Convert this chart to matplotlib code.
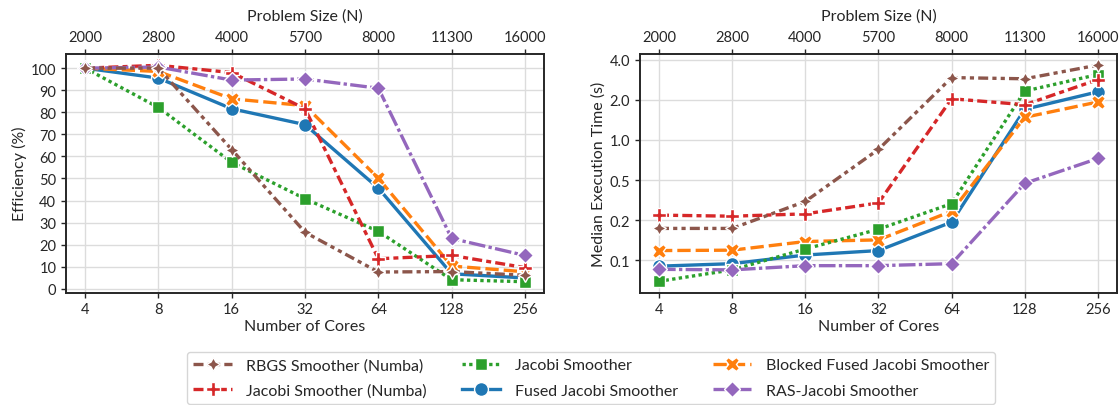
import matplotlib
matplotlib.use("Agg")
import matplotlib.pyplot as plt
from matplotlib.ticker import FormatStrFormatter

cores = [4, 8, 16, 32, 64, 128, 256]
problem_sizes = ["2000", "2800", "4000", "5700", "8000", "11300", "16000"]

# efficiency (%) per smoother
eff_fused = [100, 95.5, 81.6, 74.4, 45.6, 6.8, 4.9]
eff_blocked = [100, 98.5, 86.1, 83.0, 50.1, 10.3, 7.7]
eff_jacobi = [100, 82.2, 57.3, 40.8, 26.0, 4.1, 3.2]
eff_jacobi_numba = [100, 101.3, 98.0, 81.6, 13.6, 15.1, 9.6]
eff_ras = [100, 100.5, 94.6, 95.1, 90.9, 22.8, 15.1]
eff_rbgs = [100, 100, 63.1, 25.6, 7.6, 7.8, 6.1]

# median execution time (s)
time_fused = [0.113, 0.118, 0.137, 0.148, 0.242, 1.70, 2.30]
time_blocked = [0.148, 0.149, 0.173, 0.178, 0.292, 1.48, 1.93]
time_jacobi = [0.087, 0.106, 0.152, 0.214, 0.333, 2.33, 3.10]
time_jacobi_numba = [0.273, 0.268, 0.279, 0.337, 2.04, 1.84, 2.84]
time_ras = [0.107, 0.106, 0.114, 0.114, 0.118, 0.473, 0.727]
time_rbgs = [0.217, 0.217, 0.346, 0.85, 2.94, 2.88, 3.65]

series = [
    ("Fused Jacobi Smoother", eff_fused, time_fused, "#1f77b4", "o", (None, None)),
    ("Blocked Fused Jacobi Smoother", eff_blocked, time_blocked, "#ff7f0e", "X", (4, 1.5)),
    ("Jacobi Smoother", eff_jacobi, time_jacobi, "#2ca02c", "s", (1, 1)),
    ("Jacobi Smoother (Numba)", eff_jacobi_numba, time_jacobi_numba, "#d62728", "P",
     (3, 1.25, 1.5, 1.25)),
    ("RAS-Jacobi Smoother", eff_ras, time_ras, "#9467bd", "D", (5, 1, 1, 1)),
    ("RBGS Smoother (Numba)", eff_rbgs, time_rbgs, "#8c564b", (4, 1, 0),
     (3, 1.25, 1.25, 1.25, 1.25, 1.25)),
]
legend_order = [
    "RBGS Smoother (Numba)", "Jacobi Smoother (Numba)", "Jacobi Smoother",
    "Fused Jacobi Smoother", "Blocked Fused Jacobi Smoother", "RAS-Jacobi Smoother",
]
marker_sizes = {"o": 10, "X": 10.5, "s": 8.5, "P": 10.5, "D": 8.5}

plt.rcParams["font.family"] = ["Lato", "DejaVu Sans"]
plt.rcParams["text.color"] = "#262626"
plt.rcParams["axes.labelcolor"] = "#262626"
plt.rcParams["xtick.color"] = "#262626"
plt.rcParams["ytick.color"] = "#262626"

fig = plt.figure(figsize=(11.19, 4.06), dpi=100)
ax_eff = fig.add_axes([0.0590, 0.2765, 0.4272, 0.589])
ax_time = fig.add_axes([0.5719, 0.2765, 0.4263, 0.589])

handles = {}
for name, eff, tim, color, marker, dash in series:
    ms = marker_sizes.get(marker, 10) if isinstance(marker, str) else 10
    for ax, vals in ((ax_eff, eff), (ax_time, tim)):
        (line,) = ax.plot(cores, vals, color=color, marker=marker, markersize=ms,
                          markeredgecolor="white", markeredgewidth=1.0,
                          linewidth=2.4, label=name)
        if dash[0] is not None:
            line.set_dashes(dash)
    handles[name] = line

xlim = (4 / 2 ** 0.26, 256 * 2 ** 0.26)
for ax in (ax_eff, ax_time):
    ax.set_xscale("log", base=2)
    ax.set_xlim(xlim)
    ax.set_xticks(cores, labels=[str(c) for c in cores])
    ax.minorticks_off()
    ax.grid(True, color="#dcdcdc", linewidth=1.0)
    ax.set_axisbelow(True)
    ax.set_xlabel("Number of Cores", fontsize=11.5, labelpad=2)
    ax.tick_params(labelsize=10.5, length=3.5, width=1.0, pad=3.5)
    for sp in ax.spines.values():
        sp.set_color("#262626")
        sp.set_linewidth(1.2)

    top = ax.twiny()
    top.set_xscale("log", base=2)
    top.set_xlim(xlim)
    top.set_xticks(cores, labels=problem_sizes)
    top.minorticks_off()
    top.set_xlabel("Problem Size (N)", fontsize=11.5, labelpad=7)
    top.tick_params(labelsize=10.5, length=3.5, width=1.0, pad=3.5)
    for sp in top.spines.values():
        sp.set_color("#262626")
        sp.set_linewidth(1.2)

ax_eff.set_ylim(-1.8, 106.6)
ax_eff.set_yticks(range(0, 101, 10))
ax_eff.set_ylabel("Efficiency (%)", fontsize=11.5, labelpad=3)

ax_time.set_yscale("log", base=2)
ax_time.set_ylim(0.0714, 4.45)
ax_time.set_yticks([0.125, 0.25, 0.5, 1, 2, 4])
ax_time.yaxis.set_major_formatter(FormatStrFormatter("%.1f"))
ax_time.minorticks_off()
ax_time.set_ylabel("Median Execution Time (s)", fontsize=11.5, labelpad=3)

fig.legend([handles[n] for n in legend_order], legend_order, ncol=3,
           loc="upper left", bbox_to_anchor=(187 / 1119, 1 - 352.7 / 406),
           borderaxespad=0, fontsize=11.5, handlelength=2.4, handletextpad=0.9,
           columnspacing=2.2, labelspacing=0.7, frameon=True, fancybox=True,
           edgecolor="#cccccc")

fig.savefig("out.png", dpi=100)
